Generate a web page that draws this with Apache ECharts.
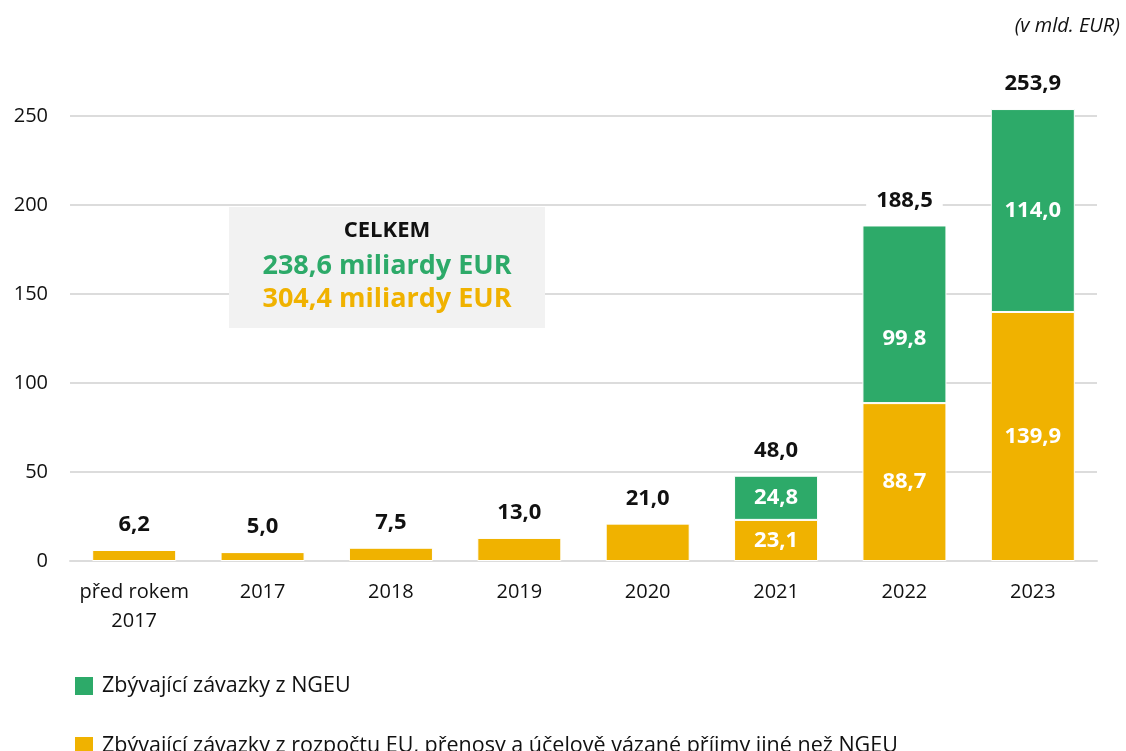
<!DOCTYPE html>
<html>
<head>
<meta charset="utf-8">
<script src="https://cdn.jsdelivr.net/npm/echarts@6/dist/echarts.min.js"></script>
<style>
  html, body { margin: 0; padding: 0; background: #fff; }
  #chart { width: 1126px; height: 751px; }
</style>
</head>
<body>
<div id="chart"></div>
<script>
  // kategorie a hodnoty (v mld. EUR)
  var categories = ['před rokem\n2017', '2017', '2018', '2019', '2020', '2021', '2022', '2023'];
  var budgetValues = [6.2, 5.0, 7.5, 13.0, 21.0, 23.1, 88.7, 139.9];
  var ngeuValues = [0, 0, 0, 0, 0, 24.8, 99.8, 114.0];
  var totals = [6.2, 5.0, 7.5, 13.0, 21.0, 48.0, 188.5, 253.9];
  var yTicks = [0, 50, 100, 150, 200, 250];
  var seriesNames = [
    'Zbývající závazky z NGEU',
    'Zbývající závazky z rozpočtu EU, přenosy a účelově vázané příjmy jiné než NGEU'
  ];

  var GREEN = '#2DAA69';
  var YELLOW = '#F0B200';
  var FONT = '"Open Sans", "Noto Sans", sans-serif';

  function fmt(v) {
    return v.toFixed(1).replace('.', ',');
  }

  var chart = echarts.init(document.getElementById('chart'));

  var legendBase = {
    left: 68,
    itemWidth: 20,
    itemHeight: 20,
    icon: 'rect',
    textStyle: { fontSize: 21.5, color: '#111', fontFamily: FONT, padding: [0, 0, 0, 3] }
  };

  var option = {
    animation: false,
    textStyle: { fontFamily: FONT },
    grid: { left: 70, right: 29, top: 116, bottom: 190, containLabel: false },
    legend: [
      Object.assign({}, legendBase, { data: [seriesNames[0]], top: 670 }),
      Object.assign({}, legendBase, { data: [seriesNames[1]], top: 730 })
    ],
    xAxis: {
      type: 'category',
      data: categories,
      axisTick: { show: false },
      axisLine: { lineStyle: { color: '#dcdcdc', width: 2 } },
      axisLabel: { fontSize: 20, color: '#111', margin: 17, lineHeight: 29, interval: 0 }
    },
    yAxis: {
      type: 'value',
      min: yTicks[0],
      max: yTicks[yTicks.length - 1],
      interval: 50,
      axisLine: { show: false },
      axisTick: { show: false },
      axisLabel: { fontSize: 20, color: '#111', margin: 22 },
      splitLine: { lineStyle: { color: '#dcdcdc', width: 2 } }
    },
    series: [
      {
        name: seriesNames[1],
        type: 'bar',
        stack: 'total',
        barWidth: 84,
        clip: false,
        itemStyle: { color: YELLOW, borderColor: '#fff', borderWidth: 1 },
        label: {
          show: true,
          position: 'inside',
          color: '#fff',
          fontWeight: 'bold',
          fontSize: 22,
          formatter: function (p) {
            return ngeuValues[p.dataIndex] > 0 ? fmt(p.value) : '';
          }
        },
        data: budgetValues
      },
      {
        name: seriesNames[0],
        type: 'bar',
        stack: 'total',
        barWidth: 84,
        clip: false,
        itemStyle: { color: GREEN, borderColor: '#fff', borderWidth: 1 },
        label: {
          show: true,
          position: 'inside',
          color: '#fff',
          fontWeight: 'bold',
          fontSize: 22,
          formatter: function (p) {
            return p.value > 0 ? fmt(p.value) : '';
          }
        },
        data: ngeuValues.map(function (v, i) {
          if (i === 6) return { value: v, label: { offset: [0, 24] } };
          return v;
        })
      },
      {
        name: 'celkem',
        type: 'bar',
        stack: 'total',
        barWidth: 84,
        clip: false,
        itemStyle: { color: 'transparent' },
        label: {
          show: true,
          position: 'top',
          distance: 14,
          color: '#111',
          fontWeight: 'bold',
          fontSize: 22,
          backgroundColor: '#fff',
          padding: [0, 10],
          formatter: function (p) {
            return fmt(totals[p.dataIndex]);
          }
        },
        data: totals.map(function () { return 0; })
      }
    ],
    graphic: [
      {
        type: 'text',
        right: 6,
        top: 16,
        z: 100,
        style: {
          text: '(v mld. EUR)',
          fontSize: 20,
          fontStyle: 'italic',
          fill: '#111',
          fontFamily: FONT
        }
      },
      {
        type: 'rect',
        left: 229,
        top: 207,
        z: 100,
        shape: { width: 316, height: 121 },
        style: { fill: '#f2f2f2' }
      },
      {
        type: 'text',
        x: 387, y: 231,
        z: 101,
        style: {
          text: 'CELKEM', fontSize: 22, fontWeight: 'bold', fill: '#111',
          align: 'center', verticalAlign: 'middle', fontFamily: FONT
        }
      },
      {
        type: 'text',
        x: 387, y: 266,
        z: 101,
        style: {
          text: '238,6 miliardy EUR', fontSize: 27, fontWeight: 'bold', fill: GREEN,
          align: 'center', verticalAlign: 'middle', fontFamily: FONT
        }
      },
      {
        type: 'text',
        x: 387, y: 299,
        z: 101,
        style: {
          text: '304,4 miliardy EUR', fontSize: 27, fontWeight: 'bold', fill: YELLOW,
          align: 'center', verticalAlign: 'middle', fontFamily: FONT
        }
      }
    ]
  };

  chart.setOption(option);
</script>
</body>
</html>
